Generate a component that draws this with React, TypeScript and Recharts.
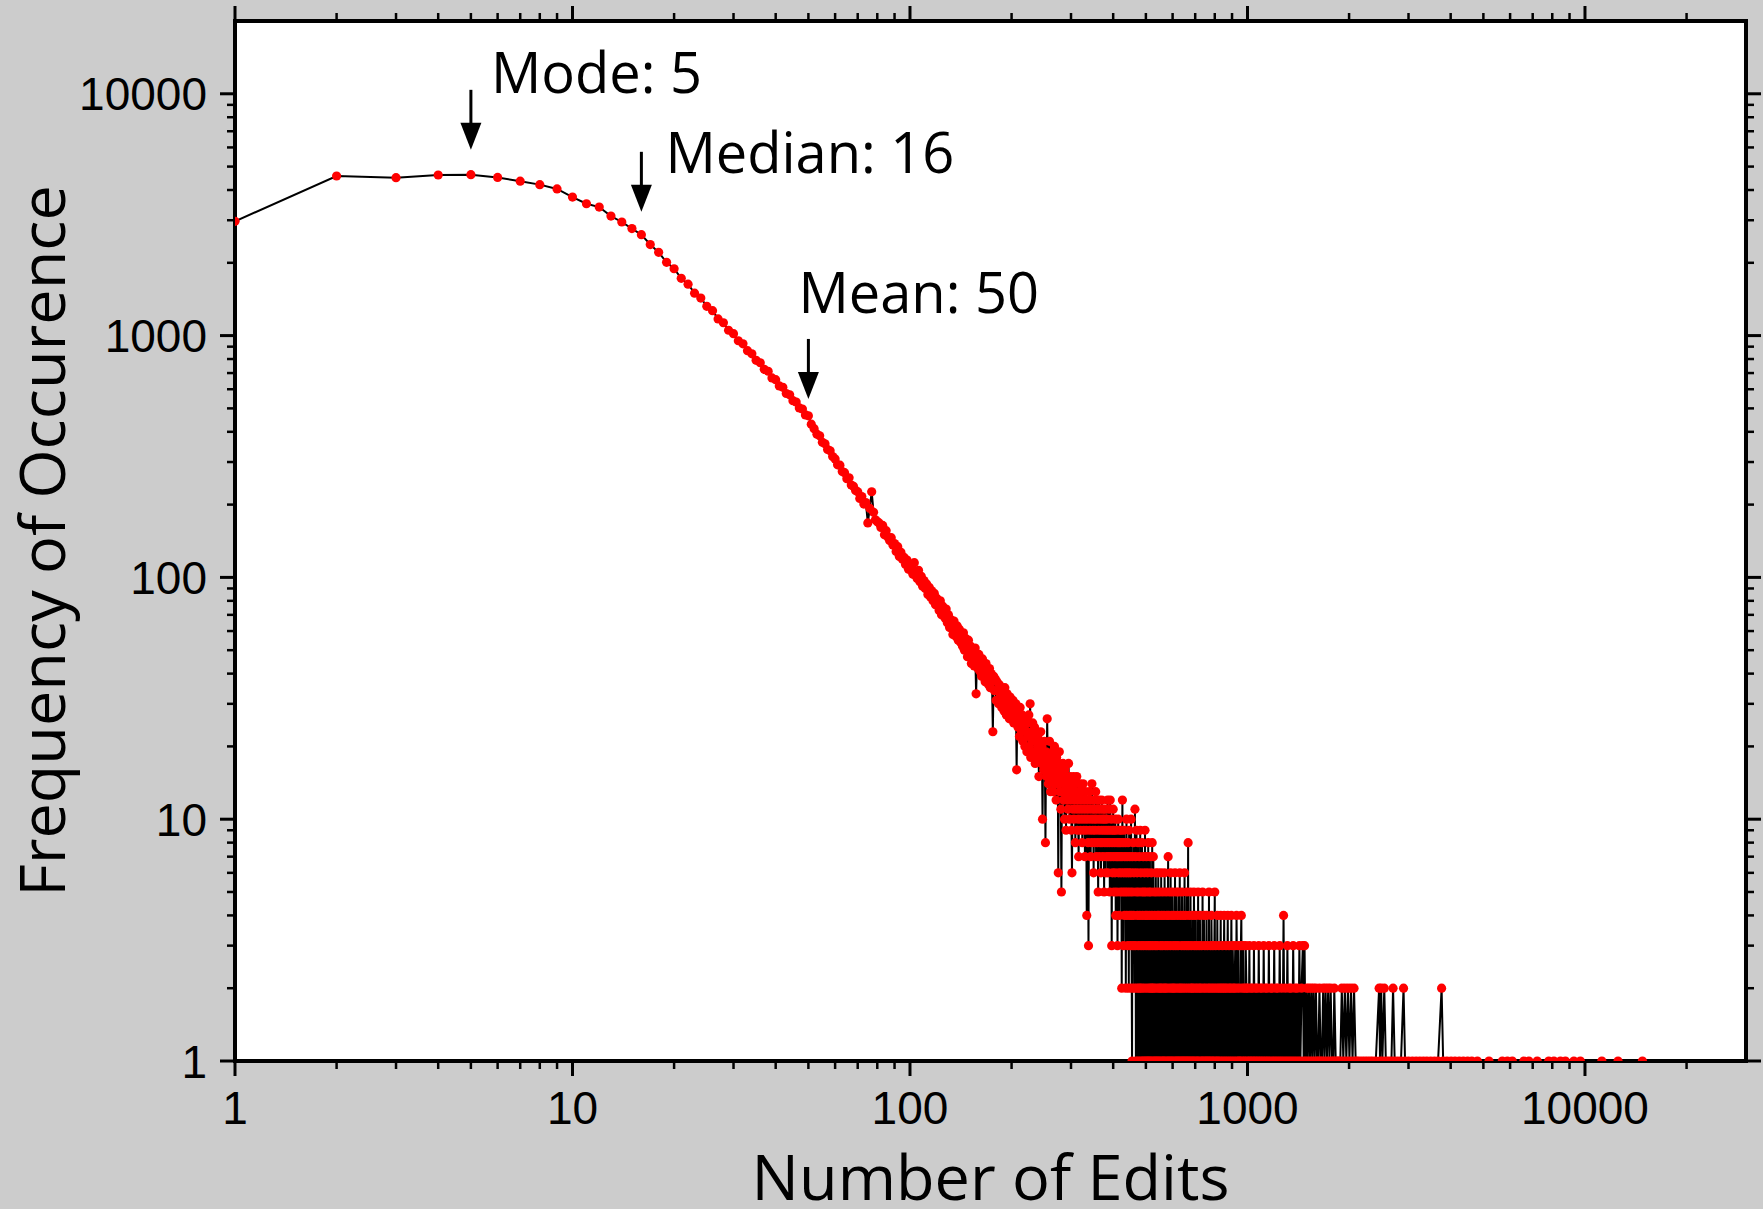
// App.tsx
import React from 'react';
import { LineChart, Line, XAxis, YAxis, CartesianGrid, ReferenceDot } from 'recharts';

// frequency for every edit count 1..460
const headFreq: number[] = [
  2970, 4570, 4500, 4615, 4630, 4510, 4350, 4210, 4040, 3740,
  3510, 3400, 3120, 2950, 2770, 2615, 2380, 2210, 2010, 1890,
  1725, 1632, 1498, 1430, 1322, 1268, 1172, 1130, 1052, 1018,
  952, 925, 866, 841, 790, 772, 725, 712, 668, 657,
  619, 611, 576, 569, 538, 531, 502, 497, 470, 466,
  430, 412, 391, 385, 362, 357, 338, 334, 316, 309,
  292, 291, 274, 271, 256, 258, 241, 238, 229, 226,
  212, 216, 201, 204, 168, 193, 226, 186, 173, 170,
  168, 161, 164, 150, 156, 147, 142, 146, 136, 138,
  128, 134, 122, 127, 119, 121, 113, 118, 108, 112,
  109, 103, 115, 104, 99, 107, 96, 101, 92, 97,
  90, 94, 85, 91, 83, 88, 80, 86, 77, 82,
  79, 73, 80, 70, 76, 71, 68, 74, 65, 70,
  62, 67, 64, 58, 66, 60, 57, 63, 55, 61,
  54, 58, 52, 59, 50, 56, 51, 47, 55, 49,
  52, 44, 50, 47, 43, 51, 33, 46, 42, 48,
  41, 45, 39, 46, 40, 43, 37, 44, 38, 41,
  36, 42, 35, 40, 37, 23, 39, 34, 38, 31,
  37, 34, 30, 36, 32, 35, 29, 34, 31, 28,
  35, 30, 27, 33, 29, 31, 26, 32, 28, 30,
  27, 31, 25, 29, 26, 30, 16, 28, 24, 27,
  22, 29, 25, 23, 27, 21, 26, 24, 20, 26,
  23, 19, 25, 22, 27, 20, 30, 18, 23, 21,
  25, 19, 22, 24, 17, 21, 23, 18, 22, 20,
  15, 21, 19, 23, 17, 20, 10, 19, 16, 21,
  18, 8, 19, 15, 26, 17, 14, 18, 21, 16,
  13, 18, 17, 15, 19, 13, 17, 20, 14, 16,
  12, 18, 15, 17, 6, 14, 19, 13, 16, 11,
  5, 15, 13, 17, 12, 14, 10, 16, 13, 9,
  15, 12, 14, 11, 17, 13, 10, 15, 12, 14,
  9, 6, 13, 11, 15, 10, 12, 14, 8, 13,
  11, 15, 9, 12, 10, 7, 13, 11, 14, 9,
  12, 10, 13, 8, 11, 14, 9, 12, 10, 7,
  13, 11, 9, 4, 12, 10, 8, 3, 11, 13,
  9, 12, 7, 10, 8, 14, 11, 9, 12, 6,
  10, 8, 11, 9, 13, 7, 10, 12, 8, 11,
  5, 9, 12, 7, 10, 8, 11, 6, 9, 12,
  8, 10, 7, 11, 9, 5, 10, 8, 11, 6,
  9, 7, 10, 8, 12, 6, 9, 7, 11, 8,
  5, 12, 9, 7, 10, 3, 8, 6, 9, 11,
  7, 5, 9, 8, 6, 10, 4, 7, 9, 5,
  8, 3, 7, 10, 6, 8, 4, 9, 7, 5,
  8, 6, 9, 2, 7, 12, 5, 8, 3, 6,
  9, 4, 7, 5, 8, 2, 6, 10, 4, 7,
  5, 3, 8, 6, 2, 9, 4, 7, 5, 3,
  6, 10, 4, 2, 1, 7, 5, 3, 8, 4,
];

// sparse tail: edit counts that occur beyond 460, and how often
const tailEdits: number[] = [
  461, 462, 464, 465, 466, 467, 468, 469, 470, 471,
  472, 473, 474, 475, 476, 477, 478, 479, 480, 481,
  482, 483, 484, 485, 486, 487, 488, 489, 490, 491,
  492, 493, 494, 495, 496, 497, 498, 499, 500, 501,
  502, 503, 504, 505, 506, 507, 508, 509, 510, 511,
  512, 513, 514, 515, 516, 517, 518, 519, 520, 521,
  522, 523, 524, 525, 526, 528, 529, 530, 531, 533,
  534, 535, 536, 538, 539, 540, 541, 543, 544, 545,
  547, 548, 549, 551, 552, 553, 555, 556, 557, 559,
  560, 561, 563, 564, 566, 567, 568, 570, 571, 573,
  574, 576, 577, 579, 580, 582, 583, 585, 586, 588,
  589, 591, 592, 594, 595, 597, 599, 600, 602, 603,
  605, 607, 608, 610, 611, 613, 615, 616, 618, 620,
  621, 623, 625, 626, 628, 630, 631, 633, 635, 637,
  638, 640, 642, 644, 645, 647, 649, 651, 652, 654,
  656, 658, 660, 661, 663, 665, 667, 668, 670, 672,
  674, 676, 678, 680, 682, 684, 686, 688, 690, 692,
  694, 696, 698, 701, 703, 705, 707, 710, 712, 714,
  716, 719, 721, 723, 726, 728, 731, 733, 736, 738,
  741, 743, 746, 748, 751, 753, 756, 758, 761, 764,
  766, 769, 771, 774, 777, 779, 782, 785, 787, 790,
  793, 796, 800, 802, 805, 808, 811, 814, 817, 820,
  823, 826, 830, 833, 836, 840, 843, 846, 850, 853,
  857, 860, 864, 867, 871, 874, 878, 882, 885, 889,
  893, 896, 900, 904, 908, 912, 916, 920, 924, 928,
  932, 936, 940, 944, 948, 952, 956, 959, 963, 967,
  971, 975, 980, 984, 988, 993, 997,
  1003, 1008, 1013, 1018, 1023, 1029, 1034, 1040, 1045, 1051,
  1056, 1062, 1068, 1074, 1080, 1086, 1092, 1098, 1104, 1111,
  1117, 1124, 1130, 1137, 1143, 1150, 1157, 1164, 1171, 1178,
  1185, 1192, 1200, 1207, 1215, 1222, 1230, 1238, 1246, 1254,
  1262, 1270, 1279, 1287, 1295, 1304, 1313, 1321, 1330, 1339,
  1348, 1357, 1366, 1376, 1385, 1395, 1405, 1415, 1425, 1435,
  1446, 1459, 1467, 1476, 1487, 1498, 1509, 1521, 1533, 1545,
  1557, 1569, 1582, 1595, 1608, 1621, 1634, 1648, 1662, 1676,
  1690, 1704, 1719, 1734, 1749, 1764, 1780, 1796, 1808, 1826,
  1845, 1864, 1884, 1903, 1923, 1943, 1963, 1984, 2005, 2026,
  2048, 2069, 2092, 2114, 2150, 2190, 2230, 2270, 2310, 2350,
  2400, 2455, 2470, 2490, 2510, 2543, 2570, 2620, 2670, 2700,
  2730, 2790, 2850, 2900, 2930, 3000, 3080, 3160, 3240, 3320,
  3400, 3490, 3580, 3670, 3760, 3800, 3900, 4010, 4120, 4240,
  4360, 4490, 4620, 4800, 5195, 5690, 5890, 6090, 6590, 6820,
  7220, 7810, 8090, 8460, 8750, 9270, 9690, 11220, 12530, 14800,
];

const tailFreq: number[] = [
  6, 2, 11, 3, 7, 1, 5, 9, 2, 6,
  4, 1, 8, 3, 5, 2, 7, 1, 4, 9,
  2, 6, 3, 1, 5, 8, 2, 4, 1, 7,
  3, 5, 1, 6, 2, 9, 4, 1, 5, 3,
  7, 1, 4, 2, 6, 1, 8, 3, 5, 1,
  4, 2, 7, 1, 3, 5, 2, 6, 1, 4,
  8, 2, 3, 1, 7, 2, 5, 1, 4, 3,
  1, 6, 2, 5, 1, 3, 4, 1, 6, 2,
  4, 1, 5, 2, 3, 1, 6, 2, 4, 1,
  3, 5, 1, 2, 4, 1, 6, 2, 3, 1,
  5, 2, 4, 1, 3, 7, 1, 4, 2, 5,
  1, 3, 6, 1, 2, 4, 1, 5, 2, 3,
  1, 4, 2, 6, 1, 3, 5, 1, 2, 4,
  1, 3, 5, 1, 2, 6, 1, 4, 2, 1,
  3, 5, 1, 2, 4, 1, 3, 6, 1, 2,
  4, 1, 3, 5, 1, 2, 8, 1, 3, 4,
  1, 2, 5, 1, 3, 2, 1, 4, 2, 1,
  5, 3, 1, 2, 4, 1, 3, 2, 1, 5,
  1, 3, 2, 4, 1, 2, 3, 1, 5, 1,
  2, 4, 1, 3, 2, 1, 4, 1, 3, 2,
  1, 5, 1, 2, 3, 1, 4, 2, 1, 3,
  1, 2, 5, 1, 3, 2, 1, 4, 1, 2,
  3, 1, 2, 4, 1, 2, 3, 1, 2, 4,
  1, 2, 3, 1, 2, 4, 1, 3, 2, 1,
  2, 4, 1, 3, 2, 1, 2, 3, 1, 4,
  2, 1, 3, 1, 2, 1, 3, 4, 1, 2,
  3, 1, 2, 1, 3, 2, 1,
  2, 1, 3, 1, 2, 1, 2, 1, 3, 1,
  2, 1, 2, 1, 3, 1, 2, 1, 2, 1,
  3, 1, 2, 1, 2, 1, 3, 1, 2, 1,
  2, 1, 3, 1, 2, 1, 2, 1, 3, 1,
  2, 1, 4, 1, 2, 1, 3, 1, 2, 1,
  2, 1, 3, 1, 2, 1, 2, 1, 3, 1,
  2, 3, 1, 3, 1, 2, 1, 2, 1, 2,
  1, 2, 1, 2, 1, 1, 2, 1, 1, 2,
  1, 2, 1, 2, 1, 2, 1, 1, 2, 1,
  1, 1, 1, 2, 1, 2, 1, 2, 1, 2,
  1, 2, 1, 1, 1, 1, 1, 1, 1, 1,
  1, 2, 1, 2, 1, 2, 1, 1, 1, 2,
  1, 1, 1, 2, 1, 1, 1, 1, 1, 1,
  1, 1, 1, 1, 2, 1, 1, 1, 1, 1,
  1, 1, 1, 1, 1, 1, 1, 1, 1, 1,
  1, 1, 1, 1, 1, 1, 1, 1, 1, 1,
];

const xTicks = [
  1, 2, 3, 4, 5, 6, 7, 8, 9,
  10, 20, 30, 40, 50, 60, 70, 80, 90,
  100, 200, 300, 400, 500, 600, 700, 800, 900,
  1000, 2000, 3000, 4000, 5000, 6000, 7000, 8000, 9000,
  10000, 20000,
];
const yTicks = [
  1, 2, 3, 4, 5, 6, 7, 8, 9,
  10, 20, 30, 40, 50, 60, 70, 80, 90,
  100, 200, 300, 400, 500, 600, 700, 800, 900,
  1000, 2000, 3000, 4000, 5000, 6000, 7000, 8000, 9000,
  10000,
];

const markerNames = ['Mode: 5', 'Median: 16', 'Mean: 50'];
const markerEdits = [5, 16, 50];
const markerTips = [5865, 3250, 547];

// text offset from each arrow tip
const markerTextPos = [
  { dx: 20, dy: -57 },
  { dx: 24, dy: -39 },
  { dx: -10, dy: -86 },
];

const points = [
  ...headFreq.map((v, i) => ({ edits: i + 1, freq: v })),
  ...tailEdits.map((n, i) => ({ edits: n, freq: tailFreq[i] })),
].filter((p) => p.freq !== undefined);

const TICK_FONT = '"Liberation Sans", Arial, Helvetica, sans-serif';
const TITLE_FONT = '"Open Sans", "DejaVu Sans", sans-serif';
const AXIS_W = 4;

const isMajor = (v: number) => {
  const l = Math.log10(v);
  return Math.abs(l - Math.round(l)) < 1e-6;
};

const BottomTick = (props: any) => {
  const { x, y, payload } = props;
  const major = isMajor(payload.value);
  return (
    <g>
      <line x1={x} y1={y} x2={x} y2={y + (major ? 15 : 8)} stroke="#000" strokeWidth={major ? 3 : 2.5} />
      {major && (
        <text x={x} y={y + 63} textAnchor="middle" fontSize={46} fontFamily={TICK_FONT} fill="#000">
          {payload.value}
        </text>
      )}
    </g>
  );
};

const TopTick = (props: any) => {
  const { x, y, payload } = props;
  const major = isMajor(payload.value);
  return <line x1={x} y1={y} x2={x} y2={y - (major ? 15 : 8)} stroke="#000" strokeWidth={major ? 3 : 2.5} />;
};

const LeftTick = (props: any) => {
  const { x, y, payload } = props;
  const major = isMajor(payload.value);
  return (
    <g>
      <line x1={x - (major ? 15 : 8)} y1={y} x2={x} y2={y} stroke="#000" strokeWidth={major ? 3 : 2.5} />
      {major && (
        <text x={x - 28} y={y} dy="0.36em" textAnchor="end" fontSize={46} fontFamily={TICK_FONT} fill="#000">
          {payload.value}
        </text>
      )}
    </g>
  );
};

const RightTick = (props: any) => {
  const { x, y, payload } = props;
  const major = isMajor(payload.value);
  return <line x1={x} y1={y} x2={x + (major ? 15 : 8)} y2={y} stroke="#000" strokeWidth={major ? 3 : 2.5} />;
};

const XTitle = (props: any) => {
  const vb = props.viewBox;
  return (
    <text x={vb.x + vb.width / 2} y={vb.y + vb.height - 1} textAnchor="middle" fontSize={63} fontFamily={TITLE_FONT} fill="#000">
      Number of Edits
    </text>
  );
};

const YTitle = (props: any) => {
  const vb = props.viewBox;
  const cx = vb.x + 50;
  const cy = vb.y + vb.height / 2;
  return (
    <text x={cx} y={cy} transform={`rotate(-90, ${cx}, ${cy})`} textAnchor="middle" fontSize={63} fontFamily={TITLE_FONT} fill="#000">
      Frequency of Occurence
    </text>
  );
};

const Arrow = ({ cx, cy, text, dx, dy }: any) => (
  <g>
    <line x1={cx} y1={cy - 60} x2={cx} y2={cy - 24} stroke="#000" strokeWidth={3} />
    <polygon points={`${cx - 10.5},${cy - 27} ${cx + 10.5},${cy - 27} ${cx},${cy}`} fill="#000" />
    <text x={cx + dx} y={cy + dy} fontSize={56} fontFamily={TITLE_FONT} fill="#000">
      {text}
    </text>
  </g>
);

const axisLine = { stroke: '#000', strokeWidth: AXIS_W, strokeLinecap: 'square' as const };

export default function App() {
  return (
    <div style={{ position: 'absolute', left: 0, top: 0, width: 1763, height: 1209, background: '#cccccc' }}>
      <LineChart width={1763} height={1209} data={points} margin={{ top: 11, right: 7, bottom: 8, left: 15 }}>
        <CartesianGrid fill="#ffffff" horizontal={false} vertical={false} />
        <XAxis
          dataKey="edits"
          type="number"
          scale="log"
          domain={[1, 30000]}
          allowDataOverflow
          ticks={xTicks}
          interval={0}
          height={140}
          tickSize={0}
          tickMargin={0}
          tickLine={false}
          axisLine={axisLine}
          tick={<BottomTick />}
          label={XTitle}
        />
        <XAxis
          xAxisId="top"
          orientation="top"
          dataKey="edits"
          type="number"
          scale="log"
          domain={[1, 30000]}
          allowDataOverflow
          ticks={xTicks}
          interval={0}
          height={10}
          tickSize={0}
          tickMargin={0}
          tickLine={false}
          axisLine={axisLine}
          tick={<TopTick />}
        />
        <YAxis
          type="number"
          scale="log"
          domain={[1, 20000]}
          allowDataOverflow
          ticks={yTicks}
          interval={0}
          width={220}
          tickSize={0}
          tickMargin={0}
          tickLine={false}
          axisLine={axisLine}
          tick={<LeftTick />}
          label={YTitle}
        />
        <YAxis
          yAxisId="right"
          orientation="right"
          type="number"
          scale="log"
          domain={[1, 20000]}
          allowDataOverflow
          ticks={yTicks}
          interval={0}
          width={10}
          tickSize={0}
          tickMargin={0}
          tickLine={false}
          axisLine={axisLine}
          tick={<RightTick />}
        />
        <Line
          type="linear"
          dataKey="freq"
          stroke="#000"
          strokeWidth={2}
          dot={{ r: 4.6, fill: '#ff0000', stroke: 'none' }}
          activeDot={false}
          isAnimationActive={false}
        />
        {markerNames.map((name, i) => (
          <ReferenceDot
            key={name}
            x={markerEdits[i]}
            y={markerTips[i]}
            r={0}
            shape={(p: any) => <Arrow cx={p.cx} cy={p.cy} text={name} dx={markerTextPos[i].dx} dy={markerTextPos[i].dy} />}
          />
        ))}
      </LineChart>
    </div>
  );
}
